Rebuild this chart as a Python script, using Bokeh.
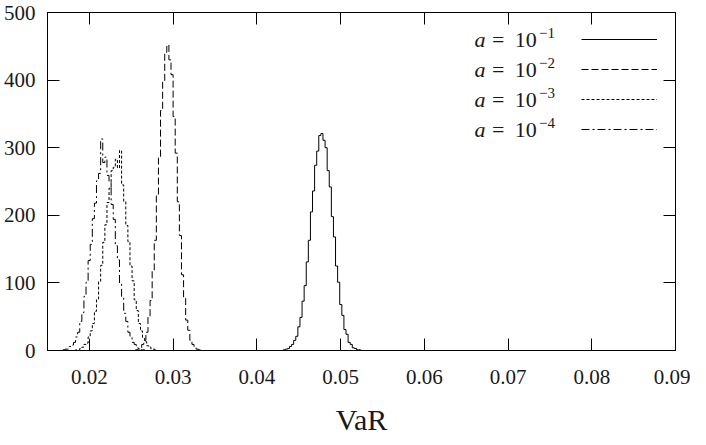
import numpy as np
from bokeh.plotting import figure
from bokeh.models import (ColumnDataSource, FixedTicker, LinearAxis, Range1d,
                          Legend, LegendItem, Label, PrintfTickFormatter,
                          CustomJSTickFormatter)
from bokeh.embed import file_html
from bokeh.resources import INLINE

# ---------------- data ----------------
bin_width = 0.00025

a1_start = 0.04315   # a = 10^-1
a1_counts = [1, 2, 3, 6, 9, 15, 21, 35, 49, 73, 96, 131, 163, 205, 236, 274, 295, 318,
             321, 311, 300, 266, 242, 198, 168, 125, 101, 68, 52, 31, 24, 12, 9, 4, 3, 1, 1, 0]

a2_start = 0.0255    # a = 10^-2
a2_counts = [1, 2, 3, 9, 15, 27, 50, 74, 119, 163, 230, 285, 355, 398, 441,
             452, 430, 408, 346, 292, 220, 170, 112, 79, 45, 30, 15, 9, 4, 2, 1]

a3_start = 0.01835   # a = 10^-3
a3_counts = [1, 1, 3, 5, 9, 11, 20, 29, 40, 58, 76, 102, 126, 160, 186, 219, 240, 266, 271,
             283, 270, 296, 245, 220, 185, 161, 125, 103, 75, 59, 40, 29, 18, 13, 7, 5, 2, 2, 0]

a4_start = 0.01685   # a = 10^-4
a4_counts = [1, 2, 2, 6, 8, 12, 20, 27, 43, 56, 80, 101, 133, 157, 195, 218, 251, 262, 313,
             278, 286, 259, 249, 216, 194, 155, 134, 99, 80, 55, 43, 27, 21, 12, 9, 4, 3, 1, 1]

x_ticks = [0.02, 0.03, 0.04, 0.05, 0.06, 0.07, 0.08, 0.09]
y_ticks = [0, 100, 200, 300, 400, 500]
x_title = "VaR"
legend_exponents = ["\u22121", "\u22122", "\u22123", "\u22124"]

# ---------------- figure ----------------
SERIF = "Liberation Serif"
W, H = 690, 438
MB_TOP = 12
X0, X1 = 0.015, 0.09

p = figure(width=W, height=H, x_range=Range1d(X0, X1), y_range=Range1d(0, 500),
           output_backend="svg", toolbar_location=None,
           min_border_left=44, min_border_right=15,
           min_border_top=MB_TOP, min_border_bottom=0)
p.grid.visible = False
p.outline_line_color = "black"
p.background_fill_color = "white"
p.border_fill_color = "white"


def style_axis(ax, labels=True):
    ax.major_tick_in = 12
    ax.major_tick_out = 0
    ax.minor_tick_in = 0
    ax.minor_tick_out = 0
    ax.axis_line_color = "black"
    ax.major_tick_line_color = "black"
    if labels:
        ax.major_label_text_font = SERIF
        ax.major_label_text_font_size = "21px"
        ax.major_label_text_color = "#1a1a1a"


xa = p.xaxis[0]
xa.ticker = FixedTicker(ticks=x_ticks)
xa.formatter = PrintfTickFormatter(format="%.2f")
style_axis(xa)
xa.major_label_standoff = 19
xa.axis_label = x_title
xa.axis_label_text_font = SERIF
xa.axis_label_text_font_size = "30px"
xa.axis_label_text_font_style = "normal"
xa.axis_label_text_color = "#1a1a1a"
xa.axis_label_standoff = 16

ya = p.yaxis[0]
ya.ticker = FixedTicker(ticks=y_ticks)
style_axis(ya)
ya.major_label_standoff = 12

empty = CustomJSTickFormatter(code="return ''")
top = LinearAxis(ticker=FixedTicker(ticks=x_ticks), formatter=empty,
                 major_label_text_font_size="1px", major_label_standoff=0)
style_axis(top, labels=False)
right = LinearAxis(ticker=FixedTicker(ticks=y_ticks), formatter=empty,
                   major_label_text_font_size="1px", major_label_standoff=0)
style_axis(right, labels=False)
p.add_layout(top, "above")
p.add_layout(right, "right")

# ---------------- series ----------------
series = [
    (a1_start, a1_counts, "solid"),
    (a2_start, a2_counts, "7 3"),
    (a3_start, a3_counts, "3 2"),
    (a4_start, a4_counts, "8 3 2 3"),
]
renderers = []
for start, counts, dash in series:
    n = len(counts)
    centers = start + bin_width * (np.arange(-1, n + 1) + 0.5)
    vals = [0] + list(counts) + [0]
    src = ColumnDataSource(dict(x=centers, y=vals))
    r = p.step("x", "y", source=src, mode="center", line_color="black",
               line_width=1, line_dash=dash)
    renderers.append(r)

# ---------------- legend (samples on the right, text on the left) ----------------
legend = Legend(items=[LegendItem(label=" ", renderers=[r]) for r in renderers],
                location="top_right", margin=12, padding=0, spacing=0,
                glyph_width=76, glyph_height=30, label_standoff=0,
                label_width=6, label_text_font_size="1px",
                background_fill_alpha=0, border_line_alpha=0)
p.add_layout(legend)

frame_h = 338.0
for i, expo in enumerate(legend_exponents):
    px_from_top = 12 + 15 + 30 * i
    yv = 500 - px_from_top * 500.0 / frame_h
    p.add_layout(Label(x=0.0660, y=yv, text="a", text_font=SERIF, text_font_style="italic",
                       text_font_size="22px", text_baseline="middle", text_color="#1a1a1a"))
    p.add_layout(Label(x=0.0681, y=yv, text="=", text_font=SERIF,
                       text_font_size="22px", text_baseline="middle", text_color="#1a1a1a"))
    p.add_layout(Label(x=0.0708, y=yv, text="10", text_font=SERIF,
                       text_font_size="22px", text_baseline="middle", text_color="#1a1a1a"))
    p.add_layout(Label(x=0.0737, y=yv, y_offset=7, text=expo, text_font=SERIF,
                       text_font_size="15px", text_baseline="middle", text_color="#1a1a1a"))

open("out.html", "w").write(file_html(p, INLINE))
